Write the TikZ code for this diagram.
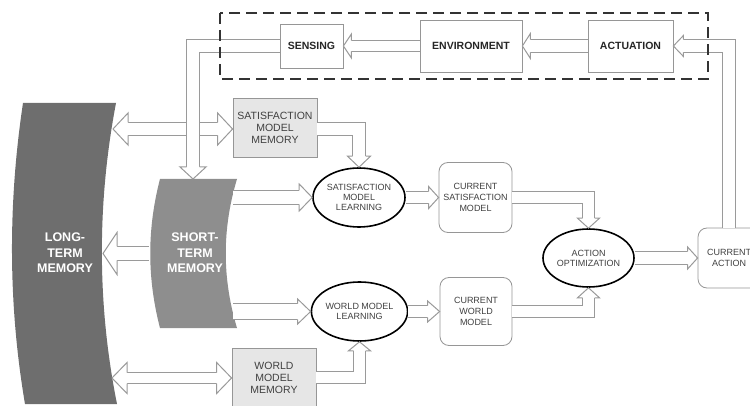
\documentclass[tikz,border=0pt]{standalone}
\usepackage{fontspec}
\setmainfont{Liberation Sans}
\usetikzlibrary{shapes.geometric,decorations.markings}
\definecolor{ln}{HTML}{9A9A9A}
\definecolor{boxline}{HTML}{969696}
\definecolor{txt}{HTML}{404040}
\definecolor{ltmgray}{HTML}{6E6E6E}
\definecolor{stmgray}{HTML}{8E8E8E}
\definecolor{memfill}{HTML}{E6E6E6}
\tikzset{
  hollow/.style n args={3}{draw=ln, line width=1pt, double=white,
    double distance={2*#1-1}, shorten >=#3pt,
    postaction={decorate, decoration={markings, mark=at position 1 with {
      \draw[ln, line width=1pt, fill=white, shorten >=0pt, shorten <=0pt]
        (-#3,#1) -- (-#3,#2) -- (0,0) -- (-#3,-#2) -- (-#3,-#1);}}}},
  twoway/.style n args={3}{hollow={#1}{#2}{#3}, shorten <=#3pt,
    postaction={decorate, decoration={markings, mark=at position 0 with {
      \draw[ln, line width=1pt, fill=white, shorten >=0pt, shorten <=0pt]
        (#3,#1) -- (#3,#2) -- (0,0) -- (#3,-#2) -- (#3,-#1);}}}}
}
\begin{document}
\begin{tikzpicture}[x=1pt,y=-1pt,
  box/.style={draw=boxline, line width=0.8pt, fill=white, inner sep=0pt, align=center, text=txt},
  ctl/.style={box, font=\fontsize{10.5}{12}\selectfont\bfseries, text=black!85},
  mem/.style={box, fill=memfill, font=\fontsize{10.5}{12}\selectfont},
  cur/.style={box, rounded corners=9pt, font=\fontsize{9}{11}\selectfont},
  proc/.style={ellipse, draw=black, line width=1.6pt, inner sep=0pt, align=center, text=txt,
    font=\fontsize{9}{10}\selectfont},
  memtxt/.style={text=white, align=center, font=\fontsize{12.5}{15.5}\selectfont\bfseries},
  frame/.style={draw=black!80, line width=1.4pt, dash pattern=on 11pt off 6pt}]
\useasboundingbox (0,0) rectangle (750,406);
\clip (0,0) rectangle (750,406);

% memories
\fill[ltmgray] (23,103) -- (116,103) .. controls (97,203) and (97,304) .. (117,404)
  -- (25,404) .. controls (8,304) and (8,203) .. (23,103) -- cycle;
\fill[stmgray] (160,179) -- (237,179) .. controls (222,229) and (222,278) .. (237,328)
  -- (160,328) .. controls (147,278) and (147,229) .. (160,179) -- cycle;
\node (ltm) at (65,253) [memtxt] {LONG-\\TERM\\MEMORY};
\node (stm) at (195,253) [memtxt] {SHORT-\\TERM\\MEMORY};
\coordinate (ltm-0) at (103,253.5); \coordinate (stm-0) at (149,253.5);
\coordinate (ltm-1) at (113,129); \coordinate (ltm-2) at (112,378);
\coordinate (stm-1) at (233,197.5); \coordinate (stm-2) at (233,311.5);
\coordinate (stm-top) at (193,179);

% loop
\node (sens) at (311.5,46) [ctl, minimum width=63pt, minimum height=44pt] {SENSING};
\node (env) at (471,46) [ctl, minimum width=102pt, minimum height=52pt] {ENVIRONMENT};
\node (act) at (630.5,46) [ctl, minimum width=85pt, minimum height=52pt] {ACTUATION};

\node (smm) at (275,127.5) [mem, minimum width=84pt, minimum height=59pt] {SATISFACTION\\MODEL\\MEMORY};
\node (wmm) at (274,377.5) [mem, minimum width=84pt, minimum height=59pt] {WORLD\\MODEL\\MEMORY};
\node (sml) at (359,197.5) [proc, minimum width=92pt, minimum height=59pt] {SATISFACTION\\MODEL\\LEARNING};
\node (wml) at (359.5,311.5) [proc, minimum width=90pt, minimum height=59pt] {WORLD MODEL\\LEARNING};
\node (csm) at (475.5,197.5) [cur, minimum width=73pt, minimum height=70pt] {CURRENT\\SATISFACTION\\MODEL};
\node (cwm) at (476,311.5) [cur, minimum width=72pt, minimum height=68pt] {CURRENT\\WORLD\\MODEL};
\node (ao) at (588.5,258) [proc, minimum width=91pt, minimum height=58pt] {ACTION\\OPTIMIZATION};
\node (ca) at (729,258) [cur, minimum width=62pt, minimum height=60pt] {CURRENT\\ACTION};

% arrows
\draw[hollow={6.5}{12.5}{8}] (act.west) -- (env.east);
\draw[hollow={5.5}{12}{8}] (env.west) -- (sens.east);
\draw[hollow={6.5}{10.5}{10}] (ca.north) |- (act.east);
\draw[twoway={6.5}{16}{15}] (ltm-1) -- (ltm-1 -| smm.west);
\draw[hollow={6.5}{13}{12}] (sens.west) -| (stm-top);
\draw[hollow={7}{21}{14}] (stm-0) -- (ltm-0);
\draw[hollow={6.5}{11.5}{11}] (smm.east |- ltm-1) -| (sml.north);
\draw[hollow={7}{13.5}{13}] (stm-1) -- (stm-1 -| sml.west);
\draw[hollow={6}{11}{10}] (sml.east) -- (csm.west);
\draw[hollow={6}{11}{10}] (csm.east) -| (ao.north);
\draw[hollow={6}{11}{10}] (cwm.east) -| (ao.south);
\draw[hollow={6.5}{11}{10}] (ao.east) -- (ca.west);
\draw[hollow={8}{12.5}{13}] (stm-2) -- (stm-2 -| wml.west);
\draw[hollow={6}{10.5}{12}] (wml.east) -- (cwm.west);
\draw[hollow={6}{11}{9}] (wmm.east) -| (wml.south);
\draw[twoway={5.5}{15.5}{15}] (ltm-2) -- (ltm-2 -| wmm.west);

\draw[frame] (220,13) rectangle (708,79);
\end{tikzpicture}
\end{document}
